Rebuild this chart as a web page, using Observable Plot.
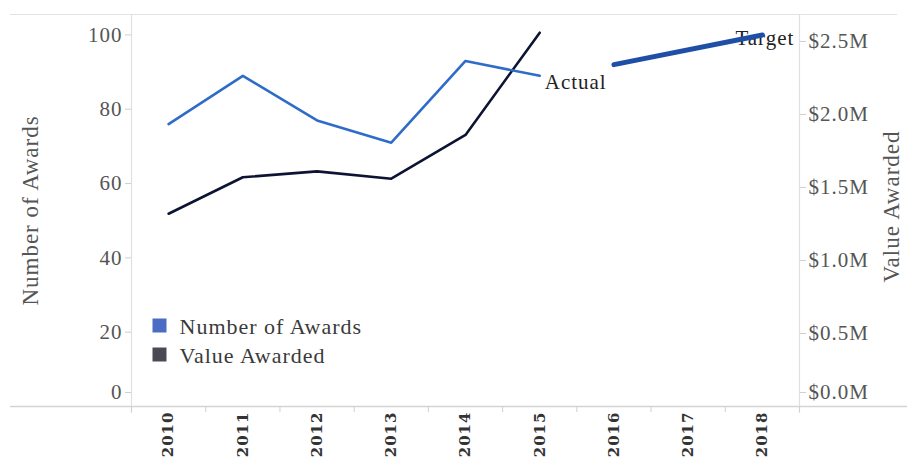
<!DOCTYPE html>
<html>
<head>
<meta charset="utf-8">
<script src="https://cdn.jsdelivr.net/npm/d3@7"></script>
<script src="https://cdn.jsdelivr.net/npm/@observablehq/plot@0.6"></script>
<style>
  html, body { margin: 0; padding: 0; background: #fff; }
  #wrap { position: relative; width: 907px; height: 458px; overflow: hidden; }
</style>
</head>
<body>
<div id="wrap"></div>
<script>
// ---- data ----
const years = [2010, 2011, 2012, 2013, 2014, 2015];
const awards = [76, 89, 77, 71, 93, 89];
const valueM = [1.32, 1.57, 1.61, 1.56, 1.86, 2.56];
const targetYears = [2016, 2018];
const targetAwards = [92, 100];
const allYears = [2010, 2011, 2012, 2013, 2014, 2015, 2016, 2017, 2018];
const leftTicks = [0, 20, 40, 60, 80, 100];
const rightTicksM = [0, 0.5, 1.0, 1.5, 2.0, 2.5];
const rightTickLabels = ["$0.0M", "$0.5M", "$1.0M", "$1.5M", "$2.0M", "$2.5M"];
const seriesNames = ["Number of Awards", "Value Awarded"];
const seriesColors = ["#4a6cc4", "#4a4a55"];

// dual-axis conversion: units of left axis per $1M
const K = 39.3;
const yMax = 105.5;
const rightTicks = rightTicksM.map(v => v * K);

const awardRows = years.map((y, i) => ({year: y, v: awards[i]}));
const valueRows = years.map((y, i) => ({year: y, v: valueM[i] * K}));
const targetRows = targetYears.map((y, i) => ({year: y, v: targetAwards[i]}));
const bounds = allYears.map(y => y - 0.5).concat([allYears[allYears.length - 1] + 0.5]);
const legendRows = seriesNames.map((name, i) => ({name, color: seriesColors[i], i}));

const font = "Liberation Serif";
const legendMarks = legendRows.flatMap(r => [
  Plot.dot([r], {frameAnchor: "top-left", dx: 28, dy: 311 + 29 * r.i, symbol: "square", r: 7.9, fill: r.color, stroke: null}),
  Plot.text([r], {frameAnchor: "top-left", text: "name", textAnchor: "start", lineAnchor: "middle", dx: 48, dy: 312 + 29 * r.i,
    fill: "#3a3a3a", fontSize: 22})
]);

const chart = Plot.plot({
  width: 907,
  height: 458,
  marginLeft: 131,
  marginRight: 108,
  marginTop: 14,
  marginBottom: 52,
  x: {domain: [bounds[0], bounds[bounds.length - 1]]},
  y: {domain: [0, yMax]},
  style: {fontFamily: font, fontSize: "21px", background: "white", color: "#555", overflow: "visible", letterSpacing: "1px"},
  marks: [
    Plot.ruleY([yMax], {stroke: "#e3e3e3", strokeWidth: 1.2, insetLeft: -121, insetRight: -98}),
    Plot.ruleY([0], {stroke: "#d4d4d4", strokeWidth: 1.5, insetLeft: -121, insetRight: -108}),
    Plot.ruleX([bounds[0], bounds[bounds.length - 1]], {stroke: "#e0e0e0", strokeWidth: 1.2, insetBottom: -7}),
    // left axis
    Plot.axisY(leftTicks.slice(1), {tickSize: 6, stroke: "#cfcfcf", fill: "#555", tickPadding: 3, label: null}),
    Plot.axisY(leftTicks.slice(0, 1), {tickSize: 6, stroke: "#cfcfcf", fill: "#555", tickPadding: 3, dy: -14, label: null}),
    // right axis
    Plot.axisY(rightTicks.slice(1), {anchor: "right", tickSize: 6, stroke: "#cfcfcf", fill: "#555", tickPadding: 3, label: null,
      tickFormat: d => rightTickLabels[rightTicks.indexOf(d)]}),
    Plot.axisY(rightTicks.slice(0, 1), {anchor: "right", tickSize: 6, stroke: "#cfcfcf", fill: "#555", tickPadding: 3, dy: -14, label: null,
      tickFormat: d => rightTickLabels[rightTicks.indexOf(d)]}),
    // x axis
    Plot.axisX(bounds, {tickSize: 6, stroke: "#d0d0d0", tickFormat: () => "", label: null}),
    Plot.axisX(allYears, {tickSize: 0, tickRotate: -90, tickPadding: 5, tickFormat: d => String(d), label: null,
      fontFamily: "DejaVu Serif", fontWeight: "bold", fontSize: 15, fill: "#333"}),
    // axis titles
    Plot.text([seriesNames[0]], {frameAnchor: "left", textAnchor: "middle", rotate: -90, dx: -101, dy: 0, fill: "#555", fontSize: 23}),
    Plot.text([seriesNames[1]], {frameAnchor: "right", textAnchor: "middle", rotate: -90, dx: 92, dy: -4, fill: "#555", fontSize: 23}),
    // legend
    ...legendMarks,
    // series
    Plot.line(valueRows, {x: "year", y: "v", stroke: "#0d1433", strokeWidth: 2.6}),
    Plot.line(awardRows, {x: "year", y: "v", stroke: "#2f6cc8", strokeWidth: 2.6}),
    Plot.text(awardRows.slice(-1), {x: "year", y: "v", text: () => "Actual", textAnchor: "start", dx: 5, dy: 6, fill: "#222", fontSize: 21}),
    Plot.text(targetRows.slice(-1), {x: "year", y: "v", text: () => "Target", textAnchor: "start", dx: -27, dy: 3, fill: "#222", fontSize: 21}),
    Plot.line(targetRows, {x: "year", y: "v", stroke: "#1f4ea6", strokeWidth: 5, strokeLinecap: "round"})
  ]
});

document.getElementById("wrap").appendChild(chart);
</script>
</body>
</html>
